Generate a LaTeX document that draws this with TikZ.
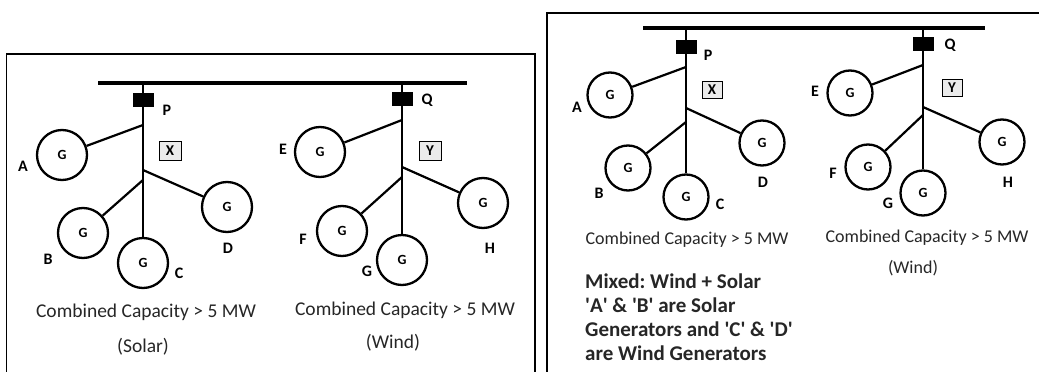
\documentclass[tikz,border=0pt]{standalone}
\usepackage{fontspec}
\setmainfont{Carlito}
\frenchspacing
\newcommand{\sq}{\textquotesingle}
\begin{document}
\begin{tikzpicture}[x=1pt,y=-1pt,
  gen/.style={circle,draw,line width=2.3pt,inner sep=0pt,minimum size=#1,font=\bfseries\fontsize{14}{16}\selectfont},
  gen/.default=50pt,
  brk/.style={fill=black,draw=black,minimum width=20pt,minimum height=13pt,inner sep=0pt},
  lbl/.style={font=\bfseries\fontsize{16}{18}\selectfont,inner sep=0pt},
  tagbox/.style={draw,line width=1pt,fill=black!8,minimum width=22pt,minimum height=19pt,inner sep=0pt,font=\bfseries\fontsize{15}{17}\selectfont},
  wire/.style={line width=2.2pt},
  bus/.style={line width=4.5pt},
  frame/.style={line width=1.6pt},
  captext/.style={font=\fontsize{19.5}{22}\selectfont,text=black!85,inner sep=0pt},
  captextb/.style={font=\fontsize{18}{20}\selectfont,text=black!85,inner sep=0pt},
  note/.style={font=\bfseries\fontsize{21}{24}\selectfont,text=black!85,align=left,inner sep=0pt}]
\useasboundingbox (0,0) rectangle (1039,372);
% ---------- panel 1 ----------
\draw[frame] (6.5,372) -- (6.5,54) -- (535,54) -- (535,372);
\coordinate (b1l) at (98,83);
\coordinate (b1r) at (467,83);
\draw[bus] (b1l) -- (b1r);
\coordinate (p1top) at (143,83);
\coordinate (q1top) at (402,83);
\node[brk] (P1) at (143,100) {};
\node[brk] (Q1) at (402,99) {};
\node[lbl] (P1l) at (167,110) {P};
\node[lbl] (Q1l) at (427,100) {Q};
\node[gen] (A1) at (62,155) {G};
\node[gen] (B1) at (83,233) {G};
\node[gen] (C1) at (143,263) {G};
\node[gen] (D1) at (227,207) {G};
\node[lbl] (A1l) at (23,166) {A};
\node[lbl] (B1l) at (48,259) {B};
\node[lbl] (C1l) at (179,273) {C};
\node[lbl] (D1l) at (228,248) {D};
\node[tagbox] (X1) at (170,151) {X};
\coordinate (ja1) at (143,125);
\coordinate (jd1) at (143,170);
\coordinate (jb1) at (143,180);
\draw[wire] (p1top) -- (P1.north);
\draw[wire] (P1.south) -- (C1);
\draw[wire] (ja1) -- (A1);
\draw[wire] (jd1) -- (D1);
\draw[wire] (jb1) -- (B1);
\node[gen] (E1) at (320,152) {G};
\node[gen] (F1) at (342,231) {G};
\node[gen] (G1) at (402,260) {G};
\node[gen] (H1) at (483,203) {G};
\node[lbl] (E1l) at (283,149) {E};
\node[lbl] (F1l) at (303,239) {F};
\node[lbl] (G1l) at (367,271) {G};
\node[lbl] (H1l) at (490,248) {H};
\node[tagbox] (Y1) at (430,151) {Y};
\coordinate (je1) at (402,120);
\coordinate (jh1) at (402,167);
\coordinate (jf1) at (402,177);
\draw[wire] (q1top) -- (Q1.north);
\draw[wire] (Q1.south) -- (G1);
\draw[wire] (je1) -- (E1);
\draw[wire] (jh1) -- (H1);
\draw[wire] (jf1) -- (F1);
\node[captext] (c1a) at (146,312) {Combined Capacity > 5 MW};
\node[captext] (c1b) at (143,347) {(Solar)};
\node[captext] (c1c) at (405,310) {Combined Capacity > 5 MW};
\node[captext] (c1d) at (393,343) {(Wind)};
% ---------- panel 2 ----------
\draw[frame] (547,372) -- (547,13) -- (1039,13);
\coordinate (b2l) at (643,28);
\coordinate (b2r) at (985,28);
\draw[bus] (b2l) -- (b2r);
\coordinate (p2top) at (686,28);
\coordinate (q2top) at (923,28);
\node[brk] (P2) at (686,47) {};
\node[brk] (Q2) at (923,44) {};
\node[lbl] (P2l) at (708,55) {P};
\node[lbl] (Q2l) at (950,45) {Q};
\node[gen=45pt] (A2) at (610,95) {G};
\node[gen=45pt] (B2) at (628,168) {G};
\node[gen=45pt] (C2) at (686,197) {G};
\node[gen=45pt] (D2) at (762,143) {G};
\node[lbl] (A2l) at (577,107) {A};
\node[lbl] (B2l) at (599,193) {B};
\node[lbl] (C2l) at (720,204) {C};
\node[lbl] (D2l) at (763,182) {D};
\node[tagbox,minimum width=20pt,minimum height=17pt] (X2) at (712,90) {X};
\coordinate (ja2) at (686,67);
\coordinate (jd2) at (686,108);
\coordinate (jb2) at (686,122);
\draw[wire] (p2top) -- (P2.north);
\draw[wire] (P2.south) -- (C2);
\draw[wire] (ja2) -- (A2);
\draw[wire] (jd2) -- (D2);
\draw[wire] (jb2) -- (B2);
\node[gen=45pt] (E2) at (850,93) {G};
\node[gen=45pt] (F2) at (868,167) {G};
\node[gen=45pt] (G2) at (923,193) {G};
\node[gen=45pt] (H2) at (1002,142) {G};
\node[lbl] (E2l) at (815,91) {E};
\node[lbl] (F2l) at (833,173) {F};
\node[lbl] (G2l) at (888,203) {G};
\node[lbl] (H2l) at (1008,182) {H};
\node[tagbox,minimum width=20pt,minimum height=17pt] (Y2) at (952,88) {Y};
\coordinate (je2) at (923,65);
\coordinate (jh2) at (923,107);
\coordinate (jf2) at (923,115);
\draw[wire] (q2top) -- (Q2.north);
\draw[wire] (Q2.south) -- (G2);
\draw[wire] (je2) -- (E2);
\draw[wire] (jh2) -- (H2);
\draw[wire] (jf2) -- (F2);
\node[captextb] (c2a) at (687,240) {Combined Capacity > 5 MW};
\node[captextb] (c2c) at (927,238) {Combined Capacity > 5 MW};
\node[captextb] (c2d) at (913,268) {(Wind)};
\node[note,anchor=north west] (mix) at (585,274) {Mixed: Wind + Solar\\\sq A\sq{} \& \sq B\sq{} are Solar\\Generators and \sq C\sq{} \& \sq D\sq\\are Wind Generators};
\end{tikzpicture}
\end{document}
